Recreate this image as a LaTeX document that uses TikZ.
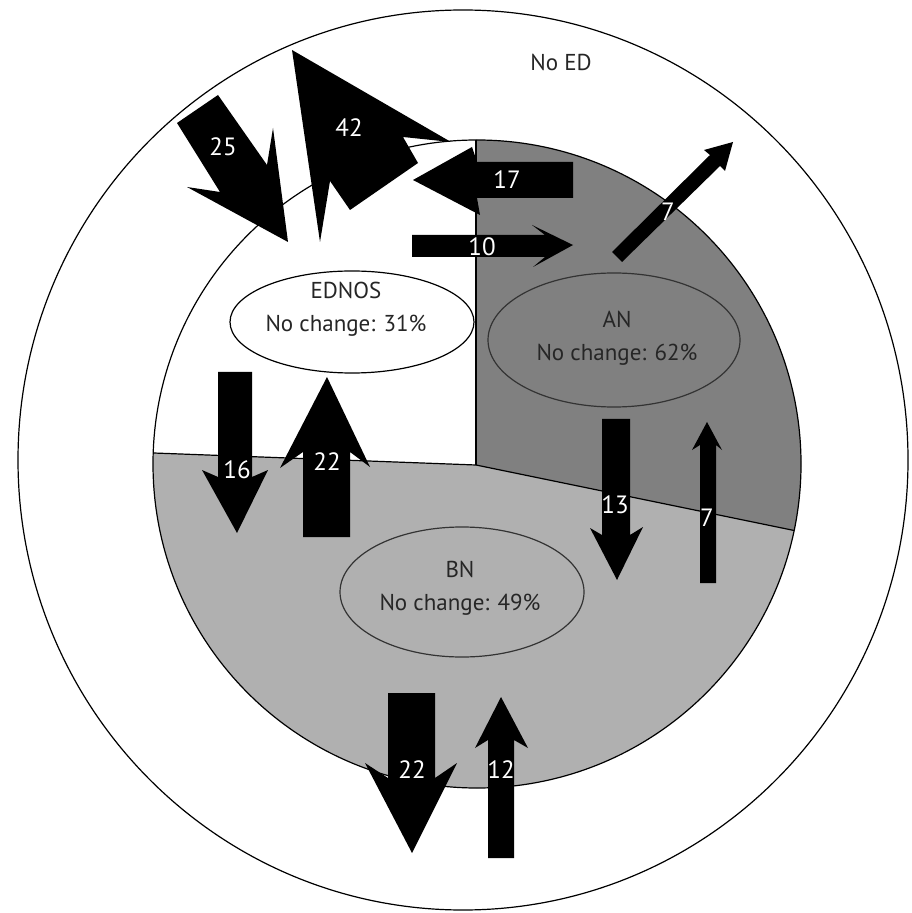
\documentclass[tikz,border=0pt]{standalone}
\usepackage{fontspec}
\setmainfont{PT Sans}
\usetikzlibrary{shapes.geometric}

\definecolor{angray}{gray}{0.50}
\definecolor{bngray}{gray}{0.69}

\begin{document}
\begin{tikzpicture}[x=0.5pt,y=-0.5pt,
  blk/.style={fill=black},
  num/.style={text=white,font=\fontsize{12.5}{14}\selectfont,inner sep=0pt},
  txt/.style={text=black!85,font=\fontsize{11.5}{16.5}\selectfont,align=center,inner sep=0pt},
  rim/.style={draw=black,line width=0.6pt}]
  \useasboundingbox (0,0) rectangle (911,913);
  % outer ring
  \draw[rim] (463,460) ellipse [x radius=445, y radius=450];
  % inner disc, three parts
  \begin{scope}
    \clip (477,464) circle [radius=324];
    \fill[white] (100,100) rectangle (850,850);
    \fill[bngray] (100,451) -- (476,465) -- (850,542) -- (850,850) -- (100,850) -- cycle;
    \fill[angray] (476,100) -- (476,465) -- (850,542) -- (850,100) -- cycle;
    \draw[rim] (476,100) -- (476,465);
    \draw[rim] (100,451) -- (476,465) -- (850,542);
  \end{scope}
  \draw[rim] (477,464) circle [radius=324];
  % groups
  \draw[rim] (352,322) ellipse [x radius=122, y radius=51];
  \draw[rim,draw=black!80] (614,340) ellipse [x radius=126, y radius=67];
  \draw[rim,draw=black!80] (462,592) ellipse [x radius=122, y radius=65];
  \node[txt] (ednos) at (346,309) {EDNOS\\No change: 31\%};
  \node[txt] (an) at (617,338) {AN\\No change: 62\%};
  \node[txt] (bn) at (460,588) {BN\\No change: 49\%};
  \node[txt] (noed) at (561,62) {No ED};
  % flows at the top
  \fill[blk] (177,123) -- (218,95) -- (267,165) -- (273,128) -- (288,242) -- (187,187) -- (220,192) -- cycle;
  \node[num] (n25) at (223,147) {25};
  \fill[blk] (292,50) -- (451,142) -- (403,137) -- (418,163) -- (350,210) -- (330,181) -- (320,242) -- cycle;
  \node[num] (n42) at (349,128) {42};
  \fill[blk] (573,162) -- (477,162) -- (472,147) -- (413,180) -- (480,215) -- (477,198) -- (573,198) -- cycle;
  \node[num] (n17) at (507,180) {17};
  \fill[blk] (412,235) -- (545,235) -- (532,225) -- (573,245) -- (533,267) -- (545,257) -- (412,257) -- cycle;
  \node[num] (n10) at (482,247) {10};
  \fill[blk] (612,252) -- (710,155) -- (704,150) -- (733,142) -- (725,171) -- (720,166) -- (622,262) -- cycle;
  \node[num] (n7a) at (668,212) {7};
  % flows in the middle
  \fill[blk] (218,372) -- (252,372) -- (252,477) -- (268,470) -- (237,533) -- (202,470) -- (218,477) -- cycle;
  \node[num] (n16) at (237,470) {16};
  \fill[blk] (303,537) -- (303,452) -- (280,468) -- (327,377) -- (370,467) -- (350,452) -- (350,537) -- cycle;
  \node[num] (n22a) at (327,462) {22};
  \fill[blk] (602,419) -- (630,419) -- (630,535) -- (643,527) -- (617,580) -- (590,528) -- (602,535) -- cycle;
  \node[num] (n13) at (615,505) {13};
  \fill[blk] (700,583) -- (700,445) -- (692,450) -- (707,422) -- (722,450) -- (716,445) -- (716,583) -- cycle;
  \node[num] (n7b) at (707,518) {7};
  % flows at the bottom
  \fill[blk] (388,693) -- (435,693) -- (435,778) -- (457,763) -- (412,853) -- (365,763) -- (388,778) -- cycle;
  \node[num] (n22b) at (412,770) {22};
  \fill[blk] (488,858) -- (488,740) -- (475,748) -- (501,697) -- (528,748) -- (514,740) -- (514,858) -- cycle;
  \node[num] (n12) at (501,770) {12};
\end{tikzpicture}
\end{document}
